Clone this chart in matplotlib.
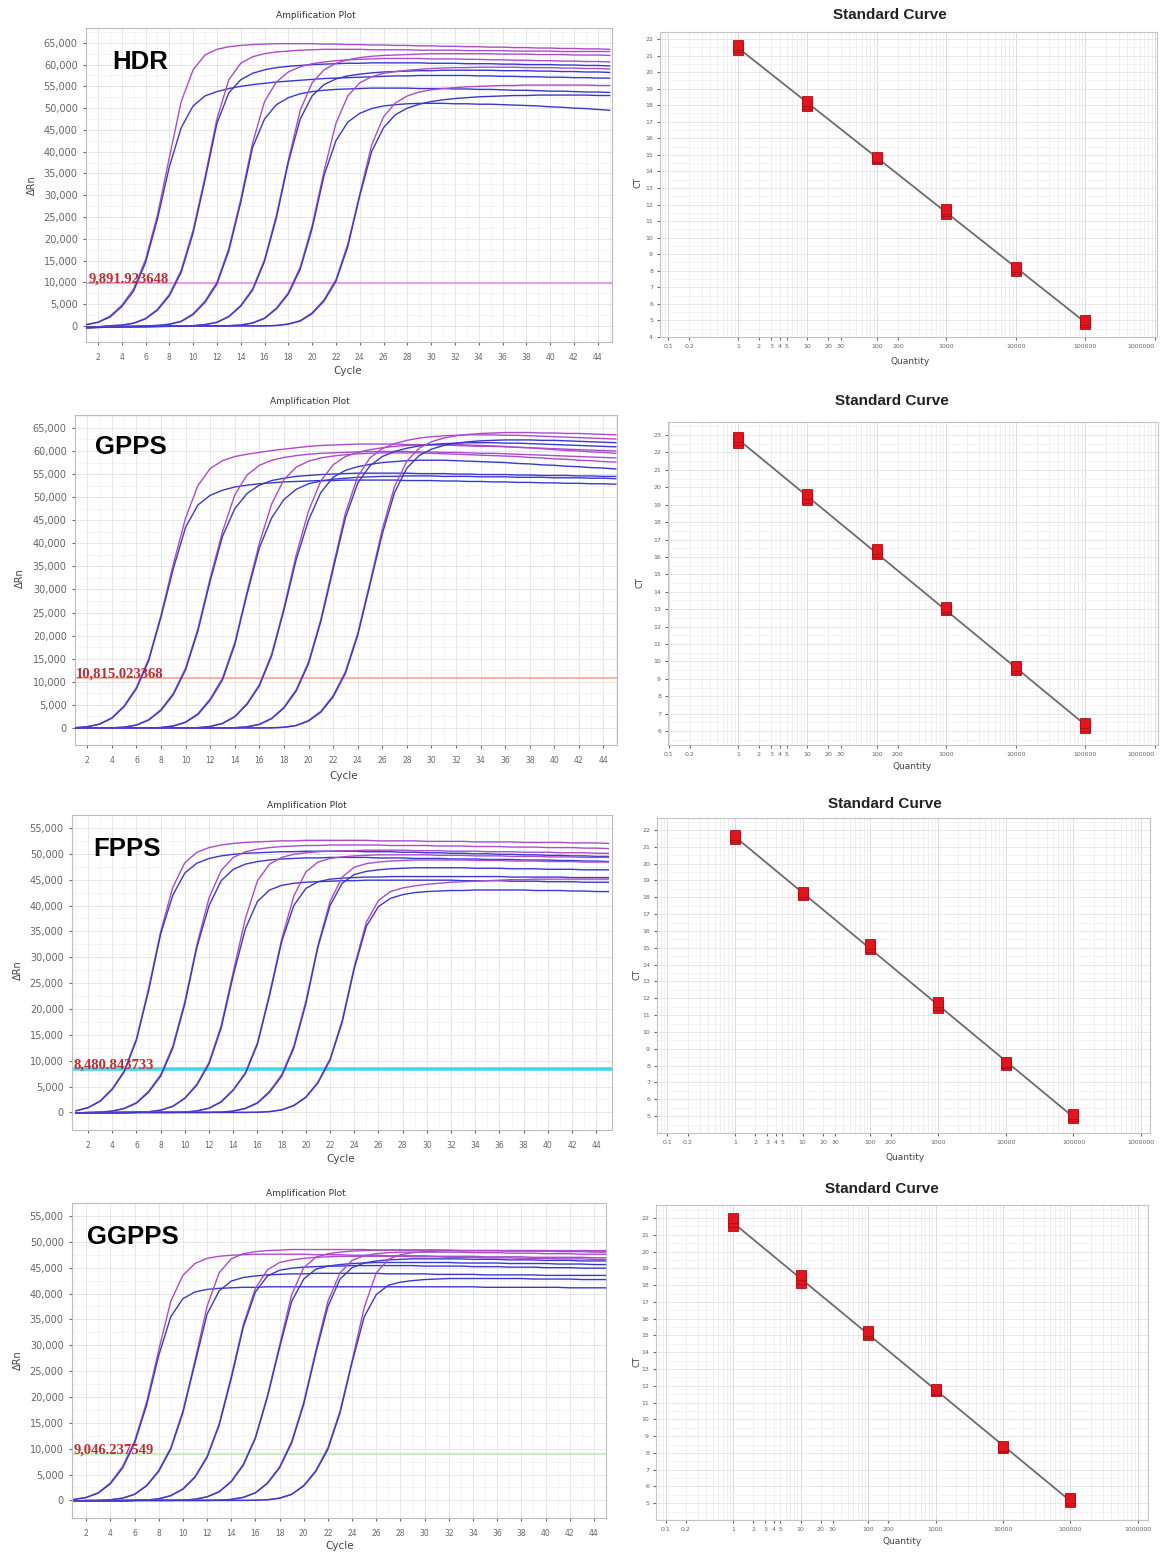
import numpy as np
import matplotlib
matplotlib.use("Agg")
import matplotlib.pyplot as plt

W, H = 1160, 1554

# ---------------- DATA ----------------
cycles = np.arange(1, 46)

# delta Rn in thousands, cycles 1..45, two replicates per dilution (6 dilutions)
hdr_curves = [
    [0.3, 0.85, 2.2, 4.7, 8.5, 15.2, 25.4, 38.6, 51.5, 58.8, 62.2, 63.5, 64.1, 64.4, 64.6, 64.7, 64.8, 64.8, 64.8, 64.8,
     64.7, 64.7, 64.6, 64.6, 64.5, 64.5, 64.4, 64.4, 64.3, 64.3, 64.2, 64.2, 64.1, 64.1, 64.0, 64.0, 63.9, 63.9, 63.8, 63.8, 63.7, 63.7, 63.6, 63.6, 63.5],
    [0.25, 0.8, 2.0, 4.4, 8.0, 14.5, 24.5, 36.5, 45.5, 50.5, 52.8, 53.8, 54.5, 55.0, 55.4, 55.7, 56.0, 56.2, 56.4, 56.6,
     56.8, 56.9, 57.0, 57.1, 57.2, 57.3, 57.4, 57.4, 57.5, 57.5, 57.5, 57.5, 57.5, 57.4, 57.4, 57.3, 57.3, 57.2, 57.2, 57.1, 57.1, 57.0, 57.0, 56.9, 56.9],
    [-0.3, -0.2, 0.05, 0.2, 0.65, 1.7, 3.8, 7.2, 12.8, 22.0, 34.2, 47.5, 56.5, 60.3, 61.8, 62.5, 62.9, 63.1, 63.3, 63.4,
     63.5, 63.5, 63.5, 63.5, 63.4, 63.4, 63.4, 63.4, 63.3, 63.3, 63.3, 63.3, 63.2, 63.2, 63.2, 63.2, 63.1, 63.1, 63.1, 63.1, 63.0, 63.0, 63.0, 63.0, 63.0],
    [-0.3, -0.2, 0.0, 0.15, 0.6, 1.6, 3.6, 6.9, 12.3, 21.3, 33.5, 46.5, 53.5, 56.5, 58.0, 58.8, 59.3, 59.6, 59.8, 60.0,
     60.1, 60.2, 60.3, 60.3, 60.4, 60.4, 60.4, 60.4, 60.4, 60.3, 60.3, 60.3, 60.2, 60.2, 60.2, 60.1, 60.1, 60.0, 60.0, 60.0, 59.9, 59.9, 59.8, 59.8, 59.7],
    [-0.4, -0.3, -0.2, -0.1, -0.1, 0.0, 0.1, 0.4, 1.1, 2.8, 5.7, 10.0, 17.8, 29.0, 42.0, 51.5, 56.0, 58.3, 59.5, 60.2,
     60.6, 60.9, 61.1, 61.2, 61.3, 61.4, 61.4, 61.4, 61.4, 61.3, 61.3, 61.3, 61.2, 61.2, 61.1, 61.1, 61.0, 61.0, 60.9, 60.9, 60.8, 60.8, 60.7, 60.7, 60.6],
    [-0.4, -0.3, -0.2, -0.1, -0.1, 0.0, 0.1, 0.35, 1.0, 2.6, 5.4, 9.6, 17.2, 28.3, 41.0, 47.5, 50.8, 52.4, 53.3, 53.8,
     54.1, 54.3, 54.4, 54.5, 54.6, 54.6, 54.6, 54.6, 54.5, 54.5, 54.5, 54.4, 54.4, 54.3, 54.3, 54.2, 54.1, 54.1, 54.0, 53.9, 53.9, 53.8, 53.7, 53.7, 53.6],
    [-0.4, -0.3, -0.25, -0.2, -0.15, -0.1, -0.1, -0.05, 0.0, 0.05, 0.3, 0.85, 2.2, 4.7, 8.5, 15.2, 25.4, 38.0, 49.5, 55.8,
     58.8, 60.3, 61.1, 61.6, 61.9, 62.1, 62.2, 62.3, 62.4, 62.5, 62.5, 62.5, 62.5, 62.5, 62.5, 62.4, 62.4, 62.4, 62.3, 62.3, 62.3, 62.2, 62.2, 62.2, 62.1],
    [-0.4, -0.3, -0.25, -0.2, -0.15, -0.1, -0.1, -0.05, 0.0, 0.05, 0.28, 0.8, 2.1, 4.5, 8.2, 14.8, 24.8, 37.5, 47.5, 52.8,
     55.4, 56.7, 57.4, 57.8, 58.1, 58.3, 58.4, 58.5, 58.6, 58.6, 58.7, 58.7, 58.7, 58.7, 58.7, 58.6, 58.6, 58.6, 58.5, 58.5, 58.4, 58.4, 58.3, 58.3, 58.2],
    [-0.4, -0.35, -0.3, -0.25, -0.2, -0.15, -0.1, -0.1, -0.05, -0.05, 0.0, 0.0, 0.05, 0.2, 0.7, 1.8, 4.1, 7.6, 13.5, 23.0,
     35.5, 46.5, 52.8, 55.8, 57.2, 58.0, 58.4, 58.7, 58.9, 59.1, 59.2, 59.3, 59.3, 59.4, 59.4, 59.4, 59.4, 59.3, 59.3, 59.3, 59.2, 59.2, 59.1, 59.1, 59.0],
    [-0.4, -0.35, -0.3, -0.25, -0.2, -0.15, -0.1, -0.1, -0.05, -0.05, 0.0, 0.0, 0.04, 0.18, 0.65, 1.7, 3.9, 7.3, 13.0, 22.3,
     34.5, 42.5, 46.8, 48.8, 49.9, 50.5, 50.8, 51.0, 51.1, 51.1, 51.1, 51.0, 51.0, 50.9, 50.9, 50.8, 50.7, 50.6, 50.5, 50.3, 50.2, 50.0, 49.9, 49.7, 49.5],
    [-0.4, -0.35, -0.3, -0.25, -0.2, -0.2, -0.15, -0.1, -0.1, -0.05, -0.05, 0.0, 0.0, 0.0, 0.0, 0.0, 0.1, 0.45, 1.2, 3.0,
     6.0, 10.6, 18.8, 30.2, 41.5, 48.0, 51.2, 52.8, 53.7, 54.2, 54.5, 54.7, 54.9, 55.0, 55.1, 55.2, 55.2, 55.3, 55.3, 55.3, 55.3, 55.3, 55.3, 55.2, 55.2],
    [-0.4, -0.35, -0.3, -0.25, -0.2, -0.2, -0.15, -0.1, -0.1, -0.05, -0.05, 0.0, 0.0, 0.0, 0.0, 0.0, 0.08, 0.4, 1.1, 2.8,
     5.7, 10.2, 18.2, 29.8, 40.0, 45.5, 48.5, 50.0, 50.9, 51.5, 51.9, 52.2, 52.4, 52.6, 52.7, 52.8, 52.9, 52.9, 53.0, 53.0, 53.0, 53.0, 53.0, 52.9, 52.9],
]

gpps_curves = [
    [0.05, 0.28, 0.85, 2.2, 4.8, 8.8, 15.0, 24.5, 35.5, 45.5, 52.5, 56.2, 57.9, 58.8, 59.3, 59.7, 60.1, 60.4, 60.7, 61.0,
     61.2, 61.3, 61.4, 61.5, 61.5, 61.5, 61.5, 61.4, 61.4, 61.3, 61.3, 61.2, 61.1, 61.0, 61.0, 60.9, 60.8, 60.7, 60.6, 60.5, 60.4, 60.3, 60.2, 60.1, 60.0],
    [0.04, 0.25, 0.8, 2.1, 4.6, 8.5, 14.6, 24.0, 34.5, 43.5, 48.3, 50.4, 51.5, 52.2, 52.6, 52.9, 53.1, 53.3, 53.4, 53.5,
     53.6, 53.6, 53.7, 53.7, 53.7, 53.7, 53.7, 53.6, 53.6, 53.6, 53.5, 53.5, 53.4, 53.4, 53.3, 53.3, 53.2, 53.2, 53.1, 53.1, 53.0, 53.0, 52.9, 52.9, 52.8],
    [0.0, 0.0, 0.0, 0.03, 0.18, 0.65, 1.8, 4.0, 7.5, 13.0, 21.5, 32.5, 42.5, 50.5, 54.8, 56.9, 58.0, 58.6, 59.0, 59.3,
     59.5, 59.6, 59.7, 59.8, 59.9, 59.9, 59.9, 59.9, 59.8, 59.8, 59.7, 59.7, 59.6, 59.5, 59.5, 59.4, 59.3, 59.2, 59.1, 59.0, 58.9, 58.8, 58.7, 58.6, 58.5],
    [0.0, 0.0, 0.0, 0.02, 0.15, 0.6, 1.7, 3.8, 7.2, 12.6, 21.0, 31.8, 41.5, 47.5, 50.8, 52.6, 53.6, 54.1, 54.5, 54.7,
     54.9, 55.0, 55.1, 55.2, 55.2, 55.2, 55.2, 55.2, 55.1, 55.1, 55.1, 55.0, 55.0, 54.9, 54.9, 54.9, 54.8, 54.8, 54.7, 54.7, 54.7, 54.6, 54.6, 54.5, 54.5],
    [0.0, 0.0, 0.0, 0.0, 0.0, 0.0, 0.0, 0.1, 0.45, 1.3, 3.1, 6.3, 10.8, 18.5, 29.5, 40.0, 48.5, 53.8, 56.5, 57.8,
     58.5, 58.9, 59.2, 59.4, 59.5, 59.6, 59.6, 59.6, 59.6, 59.5, 59.4, 59.3, 59.2, 59.1, 59.0, 58.9, 58.8, 58.6, 58.5, 58.3, 58.2, 58.0, 57.9, 57.7, 57.6],
    [0.0, 0.0, 0.0, 0.0, 0.0, 0.0, 0.0, 0.08, 0.4, 1.2, 2.9, 6.0, 10.4, 18.0, 29.0, 39.0, 45.5, 49.5, 51.7, 52.9,
     53.5, 53.9, 54.1, 54.3, 54.4, 54.5, 54.5, 54.6, 54.6, 54.6, 54.5, 54.5, 54.5, 54.4, 54.4, 54.4, 54.3, 54.3, 54.3, 54.2, 54.2, 54.2, 54.1, 54.1, 54.0],
    [0.0, 0.0, 0.0, 0.0, 0.0, 0.0, 0.0, 0.0, 0.0, 0.0, 0.07, 0.32, 1.0, 2.5, 5.3, 9.4, 16.0, 26.0, 37.5, 47.0,
     53.5, 57.0, 58.8, 59.7, 60.3, 60.7, 61.0, 61.2, 61.3, 61.4, 61.4, 61.4, 61.3, 61.2, 61.1, 61.0, 60.8, 60.7, 60.5, 60.3, 60.1, 60.0, 59.8, 59.7, 59.5],
    [0.0, 0.0, 0.0, 0.0, 0.0, 0.0, 0.0, 0.0, 0.0, 0.0, 0.06, 0.3, 0.95, 2.4, 5.1, 9.1, 15.6, 25.5, 36.5, 45.0,
     51.0, 54.3, 55.8, 56.6, 57.1, 57.5, 57.7, 57.9, 58.0, 58.0, 58.0, 57.9, 57.8, 57.7, 57.6, 57.5, 57.3, 57.2, 57.0, 56.9, 56.7, 56.6, 56.4, 56.3, 56.1],
    [0.0, 0.0, 0.0, 0.0, 0.0, 0.0, 0.0, 0.0, 0.0, 0.0, 0.0, 0.0, 0.0, 0.05, 0.25, 0.8, 2.1, 4.5, 8.3, 14.3,
     23.5, 35.0, 46.5, 54.5, 58.5, 60.5, 61.6, 62.3, 62.8, 63.1, 63.3, 63.4, 63.5, 63.5, 63.5, 63.4, 63.4, 63.3, 63.2, 63.1, 63.0, 62.9, 62.8, 62.7, 62.6],
    [0.0, 0.0, 0.0, 0.0, 0.0, 0.0, 0.0, 0.0, 0.0, 0.0, 0.0, 0.0, 0.0, 0.04, 0.22, 0.75, 2.0, 4.3, 8.0, 13.9,
     23.0, 34.3, 45.5, 53.0, 56.8, 58.8, 59.9, 60.6, 61.1, 61.4, 61.6, 61.7, 61.8, 61.8, 61.8, 61.7, 61.7, 61.6, 61.5, 61.4, 61.3, 61.2, 61.1, 61.0, 60.9],
    [0.0, 0.0, 0.0, 0.0, 0.0, 0.0, 0.0, 0.0, 0.0, 0.0, 0.0, 0.0, 0.0, 0.0, 0.0, 0.0, 0.03, 0.15, 0.55, 1.6,
     3.6, 7.0, 12.2, 20.5, 31.5, 43.0, 52.3, 57.8, 60.6, 62.0, 62.8, 63.3, 63.6, 63.8, 63.9, 64.0, 64.0, 64.0, 63.9, 63.9, 63.8, 63.8, 63.7, 63.6, 63.5],
    [0.0, 0.0, 0.0, 0.0, 0.0, 0.0, 0.0, 0.0, 0.0, 0.0, 0.0, 0.0, 0.0, 0.0, 0.0, 0.0, 0.02, 0.13, 0.5, 1.5,
     3.4, 6.7, 11.8, 20.0, 31.0, 42.0, 51.0, 56.3, 59.0, 60.4, 61.2, 61.7, 62.0, 62.2, 62.3, 62.4, 62.4, 62.4, 62.3, 62.3, 62.2, 62.1, 62.0, 61.9, 61.8],
]

fpps_curves = [
    [0.33, 0.95, 2.25, 4.6, 8.1, 14.3, 24.0, 35.0, 43.5, 48.3, 50.3, 51.2, 51.7, 52.0, 52.2, 52.3, 52.4, 52.5, 52.5, 52.6,
     52.6, 52.6, 52.6, 52.6, 52.6, 52.5, 52.5, 52.5, 52.5, 52.4, 52.4, 52.4, 52.4, 52.3, 52.3, 52.3, 52.3, 52.2, 52.2, 52.2, 52.2, 52.1, 52.1, 52.1, 52.0],
    [0.3, 0.9, 2.15, 4.45, 7.9, 14.0, 23.5, 34.5, 42.0, 46.3, 48.2, 49.1, 49.6, 49.9, 50.1, 50.2, 50.3, 50.4, 50.4, 50.5,
     50.5, 50.5, 50.5, 50.5, 50.4, 50.4, 50.4, 50.3, 50.3, 50.2, 50.2, 50.1, 50.1, 50.0, 50.0, 49.9, 49.9, 49.8, 49.8, 49.7, 49.7, 49.6, 49.6, 49.5, 49.5],
    [-0.1, 0.0, 0.06, 0.27, 0.8, 1.9, 4.1, 7.3, 12.8, 21.5, 32.5, 41.5, 46.8, 49.3, 50.4, 50.9, 51.2, 51.4, 51.5, 51.6,
     51.6, 51.7, 51.7, 51.7, 51.7, 51.7, 51.6, 51.6, 51.6, 51.6, 51.5, 51.5, 51.5, 51.4, 51.4, 51.4, 51.3, 51.3, 51.3, 51.2, 51.2, 51.2, 51.1, 51.1, 51.0],
    [-0.1, 0.0, 0.05, 0.25, 0.75, 1.8, 3.9, 7.0, 12.4, 21.0, 32.0, 40.0, 44.8, 47.0, 48.0, 48.5, 48.8, 49.0, 49.1, 49.2,
     49.2, 49.3, 49.3, 49.3, 49.3, 49.2, 49.2, 49.2, 49.1, 49.1, 49.1, 49.0, 49.0, 49.0, 48.9, 48.9, 48.9, 48.8, 48.8, 48.8, 48.7, 48.7, 48.6, 48.6, 48.5],
    [-0.1, -0.1, 0.0, 0.0, 0.0, 0.0, 0.13, 0.45, 1.2, 2.8, 5.5, 9.7, 16.8, 27.2, 37.5, 44.8, 48.0, 49.3, 49.9, 50.2,
     50.4, 50.5, 50.6, 50.6, 50.7, 50.7, 50.7, 50.7, 50.6, 50.6, 50.6, 50.5, 50.5, 50.5, 50.4, 50.4, 50.4, 50.3, 50.3, 50.3, 50.2, 50.2, 50.2, 50.1, 50.1],
    [-0.1, -0.1, 0.0, 0.0, 0.0, 0.0, 0.12, 0.42, 1.15, 2.7, 5.3, 9.4, 16.3, 26.5, 35.5, 40.8, 43.0, 43.9, 44.3, 44.5,
     44.6, 44.7, 44.8, 44.8, 44.9, 44.9, 44.9, 44.9, 44.9, 44.9, 44.9, 44.9, 44.8, 44.8, 44.8, 44.8, 44.7, 44.7, 44.7, 44.6, 44.6, 44.6, 44.5, 44.5, 44.5],
    [-0.1, -0.1, -0.1, 0.0, 0.0, 0.0, 0.0, 0.0, 0.0, 0.07, 0.3, 0.85, 2.1, 4.4, 7.7, 13.5, 23.0, 33.5, 41.8, 46.5,
     48.4, 49.1, 49.4, 49.6, 49.7, 49.8, 49.8, 49.8, 49.8, 49.8, 49.7, 49.7, 49.7, 49.6, 49.6, 49.6, 49.5, 49.5, 49.5, 49.4, 49.4, 49.4, 49.3, 49.3, 49.3],
    [-0.1, -0.1, -0.1, 0.0, 0.0, 0.0, 0.0, 0.0, 0.0, 0.06, 0.28, 0.8, 2.0, 4.3, 7.5, 13.2, 22.6, 33.0, 40.0, 43.3,
     44.6, 45.1, 45.3, 45.4, 45.5, 45.5, 45.6, 45.6, 45.6, 45.6, 45.6, 45.6, 45.6, 45.6, 45.6, 45.6, 45.5, 45.5, 45.5, 45.5, 45.5, 45.4, 45.4, 45.4, 45.4],
    [-0.1, -0.1, -0.1, -0.1, 0.0, 0.0, 0.0, 0.0, 0.0, 0.0, 0.0, 0.0, 0.06, 0.27, 0.8, 1.9, 4.1, 7.3, 12.8, 21.5,
     32.3, 40.8, 45.5, 47.4, 48.1, 48.4, 48.6, 48.7, 48.8, 48.8, 48.8, 48.8, 48.8, 48.7, 48.7, 48.7, 48.6, 48.6, 48.6, 48.5, 48.5, 48.5, 48.4, 48.4, 48.4],
    [-0.1, -0.1, -0.1, -0.1, 0.0, 0.0, 0.0, 0.0, 0.0, 0.0, 0.0, 0.0, 0.05, 0.25, 0.75, 1.8, 3.9, 7.0, 12.4, 21.0,
     32.0, 40.0, 44.3, 46.0, 46.6, 46.9, 47.1, 47.2, 47.3, 47.3, 47.3, 47.3, 47.3, 47.2, 47.2, 47.2, 47.1, 47.1, 47.1, 47.0, 47.0, 47.0, 46.9, 46.9, 46.9],
    [-0.1, -0.1, -0.1, -0.1, -0.1, 0.0, 0.0, 0.0, 0.0, 0.0, 0.0, 0.0, 0.0, 0.0, 0.0, 0.03, 0.16, 0.5, 1.35, 3.0,
     5.9, 10.4, 17.8, 28.2, 36.8, 41.0, 42.7, 43.4, 43.8, 44.1, 44.3, 44.5, 44.6, 44.7, 44.8, 44.9, 45.0, 45.0, 45.1, 45.1, 45.1, 45.1, 45.1, 45.1, 45.1],
    [-0.1, -0.1, -0.1, -0.1, -0.1, 0.0, 0.0, 0.0, 0.0, 0.0, 0.0, 0.0, 0.0, 0.0, 0.0, 0.03, 0.15, 0.48, 1.3, 2.9,
     5.7, 10.1, 17.4, 27.8, 36.0, 39.8, 41.4, 42.1, 42.5, 42.7, 42.8, 42.9, 42.9, 43.0, 43.0, 43.0, 43.0, 43.0, 42.9, 42.9, 42.9, 42.8, 42.8, 42.7, 42.7],
]

ggpps_curves = [
    [0.2, 0.6, 1.5, 3.4, 6.5, 11.4, 19.0, 29.0, 38.5, 43.5, 45.8, 46.8, 47.2, 47.4, 47.5, 47.6, 47.6, 47.6, 47.6, 47.6,
     47.5, 47.5, 47.5, 47.4, 47.4, 47.4, 47.3, 47.3, 47.3, 47.3, 47.2, 47.2, 47.2, 47.2, 47.1, 47.1, 47.1, 47.1, 47.0, 47.0, 47.0, 47.0, 47.0, 46.9, 46.9],
    [0.18, 0.55, 1.4, 3.2, 6.2, 11.0, 18.4, 28.0, 35.5, 39.0, 40.3, 40.8, 41.0, 41.1, 41.2, 41.2, 41.3, 41.3, 41.3, 41.3,
     41.3, 41.3, 41.3, 41.3, 41.3, 41.3, 41.3, 41.3, 41.3, 41.3, 41.3, 41.3, 41.3, 41.3, 41.2, 41.2, 41.2, 41.2, 41.2, 41.2, 41.2, 41.1, 41.1, 41.1, 41.1],
    [-0.1, 0.0, 0.03, 0.13, 0.45, 1.2, 2.9, 5.8, 10.2, 17.3, 27.0, 37.5, 44.0, 46.7, 47.7, 48.1, 48.3, 48.4, 48.5, 48.5,
     48.5, 48.5, 48.5, 48.5, 48.5, 48.4, 48.4, 48.4, 48.4, 48.4, 48.4, 48.3, 48.3, 48.3, 48.3, 48.3, 48.3, 48.3, 48.3, 48.3, 48.3, 48.3, 48.3, 48.3, 48.3],
    [-0.1, 0.0, 0.03, 0.12, 0.42, 1.15, 2.8, 5.6, 9.9, 16.9, 26.5, 36.0, 40.5, 42.4, 43.1, 43.4, 43.6, 43.7, 43.8, 43.8,
     43.9, 43.9, 43.9, 43.9, 43.9, 43.9, 43.8, 43.8, 43.8, 43.8, 43.7, 43.7, 43.7, 43.7, 43.6, 43.6, 43.6, 43.6, 43.6, 43.5, 43.5, 43.5, 43.5, 43.5, 43.5],
    [-0.1, -0.1, -0.1, 0.0, 0.0, 0.0, 0.08, 0.32, 0.95, 2.25, 4.6, 8.5, 14.8, 24.0, 34.0, 41.0, 44.6, 46.0, 46.5, 46.8,
     47.0, 47.1, 47.2, 47.2, 47.2, 47.2, 47.2, 47.2, 47.1, 47.1, 47.1, 47.0, 47.0, 47.0, 46.9, 46.9, 46.9, 46.8, 46.8, 46.8, 46.7, 46.7, 46.7, 46.6, 46.6],
    [-0.1, -0.1, -0.1, 0.0, 0.0, 0.0, 0.07, 0.3, 0.9, 2.15, 4.45, 8.3, 14.5, 23.5, 33.5, 40.3, 43.4, 44.5, 44.9, 45.1,
     45.2, 45.3, 45.3, 45.4, 45.4, 45.4, 45.4, 45.4, 45.4, 45.3, 45.3, 45.3, 45.3, 45.2, 45.2, 45.2, 45.1, 45.1, 45.1, 45.0, 45.0, 45.0, 44.9, 44.9, 44.9],
    [-0.1, -0.1, -0.1, -0.1, 0.0, 0.0, 0.0, 0.0, 0.0, 0.05, 0.23, 0.7, 1.7, 3.7, 7.0, 12.2, 20.3, 30.0, 39.8, 45.0,
     47.0, 47.7, 48.0, 48.2, 48.3, 48.4, 48.4, 48.4, 48.4, 48.4, 48.4, 48.4, 48.3, 48.3, 48.3, 48.3, 48.2, 48.2, 48.2, 48.2, 48.1, 48.1, 48.1, 48.0, 48.0],
    [-0.1, -0.1, -0.1, -0.1, 0.0, 0.0, 0.0, 0.0, 0.0, 0.05, 0.22, 0.68, 1.65, 3.6, 6.8, 12.0, 20.0, 29.5, 38.5, 42.8,
     44.7, 45.3, 45.6, 45.8, 45.9, 46.0, 46.0, 46.0, 46.0, 46.0, 46.0, 46.0, 45.9, 45.9, 45.9, 45.9, 45.8, 45.8, 45.8, 45.8, 45.7, 45.7, 45.7, 45.6, 45.6],
    [-0.1, -0.1, -0.1, -0.1, -0.1, 0.0, 0.0, 0.0, 0.0, 0.0, 0.0, 0.0, 0.04, 0.2, 0.6, 1.5, 3.4, 6.5, 11.4, 19.0,
     29.0, 38.5, 44.0, 46.4, 47.3, 47.7, 47.9, 48.0, 48.0, 48.0, 48.0, 48.0, 48.0, 47.9, 47.9, 47.9, 47.8, 47.8, 47.8, 47.7, 47.7, 47.7, 47.6, 47.6, 47.6],
    [-0.1, -0.1, -0.1, -0.1, -0.1, 0.0, 0.0, 0.0, 0.0, 0.0, 0.0, 0.0, 0.04, 0.19, 0.58, 1.45, 3.3, 6.3, 11.1, 18.6,
     28.5, 37.5, 42.8, 45.0, 45.9, 46.3, 46.5, 46.6, 46.7, 46.7, 46.7, 46.7, 46.7, 46.6, 46.6, 46.6, 46.5, 46.5, 46.5, 46.4, 46.4, 46.4, 46.3, 46.3, 46.3],
    [-0.1, -0.1, -0.1, -0.1, -0.1, 0.0, 0.0, 0.0, 0.0, 0.0, 0.0, 0.0, 0.0, 0.0, 0.0, 0.03, 0.13, 0.45, 1.2, 2.9,
     5.8, 10.2, 17.3, 27.0, 37.3, 44.0, 46.6, 47.5, 47.9, 48.1, 48.2, 48.3, 48.3, 48.3, 48.3, 48.3, 48.3, 48.3, 48.3, 48.3, 48.2, 48.2, 48.2, 48.2, 48.2],
    [-0.1, -0.1, -0.1, -0.1, -0.1, 0.0, 0.0, 0.0, 0.0, 0.0, 0.0, 0.0, 0.0, 0.0, 0.0, 0.03, 0.12, 0.42, 1.15, 2.8,
     5.6, 9.9, 16.9, 26.7, 35.5, 39.8, 41.6, 42.2, 42.5, 42.7, 42.8, 42.9, 42.9, 42.9, 42.9, 42.9, 42.9, 42.9, 42.8, 42.8, 42.8, 42.8, 42.7, 42.7, 42.7],
]

thresholds = [9891.923648, 10815.023368, 8480.843733, 9046.237549]
threshold_labels = ["9,891.923648", "10,815.023368", "8,480.843733", "9,046.237549"]
gene_names = ["HDR", "GPPS", "FPPS", "GGPPS"]

# standard curves: Ct of three replicates at each quantity
std_qty = [1, 10, 100, 1000, 10000, 100000]
hdr_ct = [[21.35, 21.5, 21.65], [17.95, 18.1, 18.25], [14.75, 14.8, 14.85], [11.45, 11.6, 11.75], [8.0, 8.1, 8.2], [4.8, 4.9, 5.05]]
gpps_ct = [[22.55, 22.7, 22.9], [19.25, 19.4, 19.6], [16.15, 16.3, 16.45], [12.95, 13.0, 13.1], [9.5, 9.6, 9.75], [6.15, 6.3, 6.45]]
fpps_ct = [[21.45, 21.6, 21.7], [18.15, 18.2, 18.3], [14.95, 15.05, 15.2], [11.45, 11.6, 11.8], [8.05, 8.15, 8.2], [4.9, 5.0, 5.1]]
ggpps_ct = [[21.5, 21.75, 22.0], [18.1, 18.35, 18.6], [15.05, 15.15, 15.25], [11.7, 11.75, 11.8], [8.3, 8.35, 8.4], [5.1, 5.2, 5.3]]

qty_ticks = [0.1, 0.2, 1, 2, 3, 4, 5, 10, 20, 30, 100, 200, 1000, 10000, 100000, 1000000]
qty_labels = ["0.1", "0.2", "1", "2", "3", "4", "5", "10", "20", "30", "100", "200", "1000", "10000", "100000", "1000000"]

# ---------------- LAYOUT (pixel boxes: left, right, top, bottom) ----------------
amp_boxes = [(86, 612, 28, 342), (75, 617, 415, 745), (72, 612, 815, 1130), (72, 606, 1203, 1518)]
amp_ylims = [(-3700, 68400), (-3700, 67800), (-3400, 56100), (-3400, 56300)]
amp_ymax = [65000, 65000, 55000, 55000]
amp_xlims = [(1.08, 45.2), (1.0, 45.1), (0.67, 45.3), (0.83, 45.0)]
thr_colors = ["#e6a2e6", "#f4ac96", "#3fd9ee", "#c9edc2"]
thr_widths = [1.6, 1.3, 2.6, 1.6]

std_boxes = [(660, 1157, 32, 337), (668, 1158, 422, 745), (657, 1150, 818, 1133), (656, 1148, 1205, 1520)]
std_ylims = [(4, 22.42), (5.2, 23.75), (4, 22.71), (4, 22.78)]
std_yticks = [(4, 22), (6, 23), (5, 22), (5, 22)]
std_xlims = [(0.0755, 1.07e6), (0.098, 1.12e6), (0.0705, 1.35e6), (0.072, 1.41e6)]

fig = plt.figure(figsize=(W / 100, H / 100), dpi=100)


def rect(box):
    l, r, t, b = box
    return [l / W, 1 - b / H, (r - l) / W, (b - t) / H]


def ftext(x, y, s, **kw):
    kw.setdefault("ha", "center")
    kw.setdefault("va", "center")
    fig.text(x / W, 1 - y / H, s, **kw)


curve_colors = ["#ac4ccc", "#3a38d0"]


def amp_panel(i, curves):
    ax = fig.add_axes(rect(amp_boxes[i]))
    for k, vals in enumerate(curves):
        ax.plot(cycles[:len(vals)], np.array(vals) * 1000, color=curve_colors[k % 2], lw=1.0, zorder=3)
    ax.axhline(thresholds[i], color=thr_colors[i], lw=thr_widths[i], zorder=2)
    ax.text(amp_xlims[i][0] + 0.1, thresholds[i], threshold_labels[i], family="Liberation Serif",
            fontsize=10.5, fontweight="bold", color="#c62a2c", ha="left", va="baseline", zorder=5)
    ax.set_xlim(amp_xlims[i])
    ax.set_ylim(amp_ylims[i])
    ax.set_xticks(np.arange(2, 45, 2))
    ax.set_xticks(np.arange(1, 46, 1), minor=True)
    ax.set_yticks(np.arange(0, amp_ymax[i] + 1, 5000))
    ax.set_yticks(np.arange(0, amp_ymax[i] + 2600, 2500), minor=True)
    ax.set_yticklabels(["{:,}".format(int(v)) for v in np.arange(0, amp_ymax[i] + 1, 5000)])
    ax.tick_params(axis="x", which="major", labelsize=5.5, colors="#666666", length=2, pad=6)
    ax.tick_params(axis="y", which="major", labelsize=7, colors="#666666", length=2, pad=4)
    ax.tick_params(which="minor", length=0)
    ax.grid(which="major", color="#e3e3e3", lw=0.6)
    ax.grid(which="minor", color="#f1f1f1", lw=0.5)
    ax.set_axisbelow(True)
    for sp in ax.spines.values():
        sp.set_color("#bdbdbd")
        sp.set_linewidth(0.8)
    return ax


def std_panel(i, cts):
    ax = fig.add_axes(rect(std_boxes[i]))
    ax.set_xscale("log")
    ax.set_xlim(std_xlims[i])
    ax.set_ylim(std_ylims[i])
    # light log grid
    for e in range(-2, 7):
        for m in range(1, 10):
            v = m * 10.0 ** e
            ax.axvline(v, color="#d6d6d6" if m == 1 else "#ececec", lw=0.6, zorder=0)
    y0, y1 = std_yticks[i]
    for v in np.arange(y0 - 1, y1 + 1.5, 0.5):
        ax.axhline(v, color="#e4e4e4" if v == int(v) else "#f3f3f3", lw=0.6, zorder=0)
    q = np.repeat(std_qty, 3)
    c = np.ravel(cts)
    slope, icpt = np.polyfit(np.log10(q), c, 1)
    xs = np.array([std_qty[0], std_qty[-1]], dtype=float)
    ax.plot(xs, slope * np.log10(xs) + icpt, color="#6c6c6c", lw=1.3, zorder=3)
    ax.plot(q, c, "s", ms=6.5, color="#e5141c", mec="#b00c12", mew=0.6, zorder=4)
    ax.set_xticks(qty_ticks)
    ax.set_xticklabels(qty_labels)
    ax.xaxis.set_minor_locator(matplotlib.ticker.NullLocator())
    ax.set_yticks(np.arange(y0, y1 + 1))
    ax.tick_params(labelsize=4.5, colors="#666666", length=2, pad=3)
    # last label runs into the figure edge in the first two panels
    if std_boxes[i][1] > 1152:
        ax.get_xticklabels()[-1].set_ha("right")
    for sp in ax.spines.values():
        sp.set_color("#c4c4c4")
        sp.set_linewidth(0.8)
    return ax


amp_panel(0, hdr_curves)
amp_panel(1, gpps_curves)
amp_panel(2, fpps_curves)
amp_panel(3, ggpps_curves)
std_panel(0, hdr_ct)
std_panel(1, gpps_ct)
std_panel(2, fpps_ct)
std_panel(3, ggpps_ct)

# texts
amp_title_pos = [(316, 16), (310, 402), (307, 806), (306, 1194)]
cycle_pos = [(348, 371), (344, 776), (341, 1159), (340, 1546)]
drn_pos = [(32, 185), (20, 578), (18, 970), (18, 1360)]
name_pos = [(140, 62), (131, 447), (127, 849), (133, 1237)]
std_title_pos = [(890, 15), (892, 401), (885, 804), (882, 1189)]
ct_pos = [(638, 183), (640, 583), (637, 975), (637, 1362)]
qty_pos = [(910, 361), (912, 767), (905, 1157), (902, 1541)]

for i in range(4):
    ftext(*amp_title_pos[i], "Amplification Plot", fontsize=6.5, color="#333333")
    ftext(*cycle_pos[i], "Cycle", fontsize=7.5, color="#444444")
    ftext(*drn_pos[i], "\u0394Rn", fontsize=7, color="#444444", rotation=90)
    ftext(*name_pos[i], gene_names[i], fontsize=18.5, fontweight="bold", family="Liberation Sans", color="black")
    ftext(*std_title_pos[i], "Standard Curve", fontsize=11, fontweight="bold", family="Liberation Sans", color="#222222")
    ftext(*ct_pos[i], "CT", fontsize=6, color="#444444", rotation=90)
    ftext(*qty_pos[i], "Quantity", fontsize=6.5, color="#444444")

fig.savefig("out.png", dpi=100)
